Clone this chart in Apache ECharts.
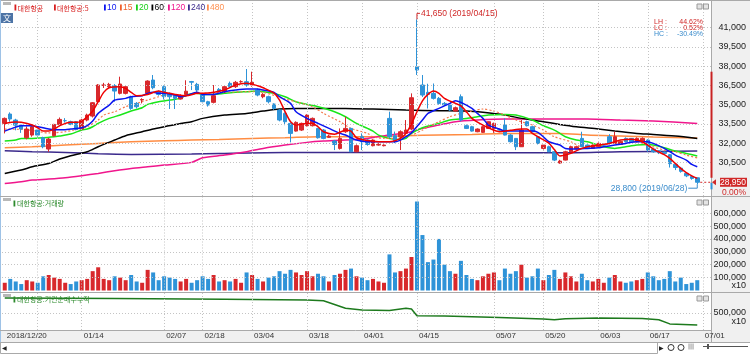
<!DOCTYPE html>
<html><head><meta charset="utf-8">
<script src="https://cdn.jsdelivr.net/npm/echarts@6/dist/echarts.min.js"></script>
<style>html,body{margin:0;padding:0;background:#fff}#c{width:750px;height:354px}</style>
</head><body><div id="c"></div>
<script>
// ---------------- DATA ----------------
const dates = [
'2018/12/20','2018/12/21','2018/12/24','2018/12/26','2018/12/27','2018/12/28',
'2019/01/02','2019/01/03','2019/01/04','2019/01/07','2019/01/08','2019/01/09','2019/01/10','2019/01/11','2019/01/14','2019/01/15','2019/01/16','2019/01/17','2019/01/18','2019/01/21','2019/01/22','2019/01/23','2019/01/24','2019/01/25','2019/01/28','2019/01/29','2019/01/30','2019/01/31',
'2019/02/01','2019/02/07','2019/02/08','2019/02/11','2019/02/12','2019/02/13','2019/02/14','2019/02/15','2019/02/18','2019/02/19','2019/02/20','2019/02/21','2019/02/22','2019/02/25','2019/02/26','2019/02/27','2019/02/28',
'2019/03/04','2019/03/05','2019/03/06','2019/03/07','2019/03/08','2019/03/11','2019/03/12','2019/03/13','2019/03/14','2019/03/15','2019/03/18','2019/03/19','2019/03/20','2019/03/21','2019/03/22','2019/03/25','2019/03/26','2019/03/27','2019/03/28','2019/03/29',
'2019/04/01','2019/04/02','2019/04/03','2019/04/04','2019/04/05','2019/04/08','2019/04/09','2019/04/10','2019/04/11','2019/04/12','2019/04/15','2019/04/16','2019/04/17','2019/04/18','2019/04/19','2019/04/22','2019/04/23','2019/04/24','2019/04/25','2019/04/26','2019/04/29','2019/04/30',
'2019/05/02','2019/05/03','2019/05/07','2019/05/08','2019/05/09','2019/05/10','2019/05/13','2019/05/14','2019/05/15','2019/05/16','2019/05/17','2019/05/20','2019/05/21','2019/05/22','2019/05/23','2019/05/24','2019/05/27','2019/05/28','2019/05/29','2019/05/30','2019/05/31',
'2019/06/03','2019/06/04','2019/06/05','2019/06/07','2019/06/10','2019/06/11','2019/06/12','2019/06/13','2019/06/14','2019/06/17','2019/06/18','2019/06/19','2019/06/20','2019/06/21','2019/06/24','2019/06/25','2019/06/26','2019/06/27','2019/06/28',
'2019/07/01','2019/07/02'];

const opens = [33540,34270,33800,33410,32420,32630,33020,32420,31540,32580,
33460,33750,33670,33670,33100,33800,34110,35230,36500,36400,
36480,35880,35880,35620,35100,35360,35880,36920,36010,36400,
35880,35750,35440,35800,36800,36580,35750,35230,35180,36190,
36010,36660,36400,36790,36790,36530,36140,35620,35620,35050,
34580,34320,33540,32940,33020,33360,33360,33150,33020,32450,
32160,31590,32890,33150,31330,32500,32240,31800,31850,31800,
33930,32580,32500,32760,33100,37960,36530,35960,35880,35490,
35100,34970,34500,35620,33360,33280,32890,32840,33150,33150,
33050,33410,32630,32370,31720,33670,33280,32500,31590,31720,
31330,30450,30680,31330,31540,32370,31850,31590,31720,31850,
32500,31980,31900,32370,32370,32110,32160,32240,31540,31400,
31300,31100,30350,30050,29650,29400,29300];
const closes = [33930,33880,33400,33100,33100,33280,32630,31720,32320,33460,
33850,33750,33460,33070,33800,34190,35150,36530,36530,36580,
36060,36610,36400,34710,34840,35400,36840,36320,35800,35620,
35620,35490,35700,36050,36750,36140,35230,34970,35700,36060,
36400,36400,36740,36790,36530,36740,35750,35800,35230,34710,
33800,33670,32760,33620,33540,34190,33930,32420,32370,32550,
31900,32370,33150,31330,31800,32110,31900,32240,31900,31850,
32500,32110,32890,33020,35540,37700,35750,35800,35490,35100,
34970,34580,34760,33800,33150,32940,33100,33280,33670,33540,
33020,32630,32110,31720,33020,33360,32890,31980,31850,31330,
30680,30600,31330,31720,31720,31720,31640,31850,31980,31850,
31980,32500,32110,32110,32110,32370,32370,31460,31330,31250,
31200,30400,30100,29800,29450,29250,28950];
const lows = [32760,33670,33000,32800,32300,32500,32500,31600,31330,32500,
33400,33600,33400,33000,33000,33700,34000,35100,36300,36300,
35230,35800,35800,34600,34700,35100,35800,36200,35700,35400,
34660,34660,35400,35650,36140,36000,35100,34850,35100,35950,
35900,36300,36300,36700,36400,36400,35650,35500,35100,34600,
33700,33400,32060,32900,32950,33300,33300,32350,32300,32400,
31460,31500,32800,31300,31300,31460,31800,31750,31800,31750,
32400,32000,31460,32700,33000,37310,35600,34700,35400,35000,
34900,34500,34450,33700,33100,32900,32850,32800,33100,32800,
32950,32600,32050,31460,31700,33300,32850,31900,31500,31300,
30600,30400,30650,31300,31500,31700,31600,31550,31700,31800,
31900,31950,31850,32050,32050,32050,32100,31330,31250,31150,
31100,30100,29900,29700,29350,29150,28800];
const highs = [34000,34400,33900,33500,33300,33400,33100,32500,32400,33500,
34000,33950,33750,33700,33900,34300,35200,36600,36700,36700,
36600,37180,36500,35700,35200,35500,36900,37310,36100,36500,
35950,35800,35800,36900,36850,36700,35900,35300,36530,36300,
36500,36800,36850,36900,37780,37570,36250,35900,35700,35100,
34650,34400,33600,33700,33600,34250,34000,33200,33100,32650,
32250,33150,34060,33200,31900,32760,32300,32300,32000,31900,
34450,32900,33000,33800,35880,41650,37310,36630,36650,35600,
35200,35050,34850,35800,33450,33350,33150,33350,33700,33600,
33100,33930,32700,32400,33800,33750,33350,32550,31900,31800,
31400,30700,31400,31800,31800,32890,31900,31900,32050,31950,
32700,32890,32200,32450,32400,32450,32450,32300,31600,31450,
31350,31150,30450,30150,29700,29450,29300];

// volume (axis units, x10 shares)
const volumes = [60000,90000,70000,50000,80000,70000,60000,110000,120000,100000,
90000,60000,50000,70000,80000,90000,150000,180000,90000,80000,
110000,100000,80000,120000,70000,60000,160000,140000,80000,110000,
100000,90000,70000,90000,60000,80000,110000,90000,120000,70000,
80000,70000,90000,60000,140000,120000,90000,70000,100000,110000,
150000,130000,160000,140000,120000,150000,110000,130000,110000,70000,
120000,130000,160000,170000,110000,100000,80000,90000,70000,60000,
280000,140000,150000,170000,260000,690000,430000,220000,240000,400000,
200000,150000,130000,230000,120000,90000,80000,110000,130000,140000,
80000,170000,130000,150000,200000,100000,110000,170000,80000,120000,
160000,90000,140000,110000,70000,130000,80000,70000,90000,60000,
100000,120000,70000,60000,70000,80000,90000,140000,110000,80000,
90000,150000,70000,100000,50000,60000,80000];

// moving averages: [dateIndex, value]
const ma5 = [[0,33540],[2,33650],[3,33620],[5,33410],[6,33200],[7,32940],[8,32940],[9,33100],[10,33360],[12,33620],[13,33620],[14,33720],[15,34060],[16,34500],[17,35230],[18,35960],[19,36320],[21,36400],[22,36270],[23,35960],[24,35700],[26,35800],[28,36060],[29,35960],[31,35800],[33,35700],[35,35880],[37,35900],[38,35960],[40,36140],[42,36530],[44,36660],[46,36480],[47,36320],[49,35900],[50,35360],[51,34450],[52,33670],[53,33410],[55,33540],[56,33540],[57,33280],[58,32890],[60,32700],[62,33000],[63,32940],[64,32420],[66,32200],[68,32110],[70,32110],[72,32370],[73,32760],[74,33500],[75,34450],[76,35300],[77,35800],[78,36060],[79,35880],[80,35490],[82,35100],[83,34900],[84,34450],[85,33930],[87,33400],[89,33000],[90,32890],[92,33000],[94,33100],[95,33100],[96,32760],[97,32500],[99,32000],[100,31500],[101,31000],[103,31200],[104,31400],[105,31590],[106,31720],[108,31850],[110,31980],[111,32110],[112,32240],[114,32300],[115,32240],[116,32110],[117,31850],[118,31540],[120,31100],[121,30810],[122,30420],[123,30030],[124,29700],[125,29450],[126,29250]];
const ma10 = [[0,32940],[2,33250],[3,33360],[5,33360],[6,33280],[8,33100],[9,33050],[11,33050],[12,33100],[14,33200],[15,33360],[16,33720],[17,34320],[19,34970],[20,35360],[22,35490],[23,35620],[25,35700],[26,35880],[27,35960],[28,35880],[29,35880],[31,35750],[32,35620],[33,35700],[35,35960],[36,35800],[38,35800],[40,36010],[42,36140],[44,36220],[46,36220],[47,36140],[49,35960],[50,35620],[52,35100],[53,34450],[55,33930],[57,33540],[59,33150],[61,32760],[62,32630],[64,32240],[66,32110],[69,32110],[71,32110],[72,32240],[73,32500],[74,32800],[75,33300],[76,33800],[77,34320],[79,34710],[81,35100],[82,35310],[83,35180],[85,34710],[86,34320],[87,33930],[88,33410],[90,33100],[91,32940],[93,32940],[96,32940],[97,32840],[98,32500],[99,32110],[101,31850],[102,31590],[104,31540],[106,31590],[108,31640],[109,31720],[111,31850],[113,31980],[115,32110],[117,32110],[118,31980],[120,31590],[122,31070],[124,30680],[125,30340],[126,30160]];
const ma15 = [[0,33100],[4,33050],[8,32800],[11,32890],[15,33280],[17,33800],[18,34190],[20,34450],[22,34840],[25,35230],[26,35360],[28,35620],[29,35750],[32,35700],[33,35750],[36,35880],[40,35960],[44,36010],[47,35960],[51,35440],[53,35230],[56,34840],[58,34320],[61,33670],[63,33150],[66,32760],[67,32500],[69,32370],[71,32370],[74,32630],[76,33020],[77,33280],[79,33670],[81,34060],[83,34320],[85,34500],[87,34660],[89,34500],[91,34190],[93,33800],[96,33410],[98,33020],[100,32500],[103,32110],[105,31720],[108,31720],[110,31980],[112,32110],[115,32110],[117,31850],[120,31460],[122,31330],[124,31070],[126,30850]];
const ma20 = [[0,32160],[2,32240],[3,32370],[5,32370],[7,32420],[9,32500],[10,32550],[12,32710],[14,33020],[15,33100],[16,33280],[17,33540],[19,33930],[21,34190],[23,34500],[25,34760],[26,35020],[28,35230],[30,35360],[32,35490],[33,35750],[35,35880],[36,35800],[38,35800],[40,35880],[42,35960],[44,36010],[46,36060],[47,36010],[49,35880],[51,35620],[53,35230],[55,35020],[57,34840],[60,34450],[62,34060],[64,33540],[66,33150],[67,32940],[68,32630],[70,32370],[72,32290],[73,32370],[74,32760],[76,33200],[79,33540],[81,33800],[84,33930],[86,34060],[88,34190],[91,34240],[93,34190],[96,33800],[98,33360],[100,33020],[101,32760],[102,32500],[104,32240],[106,32110],[108,31850],[109,31720],[111,31590],[113,31720],[115,31850],[117,31900],[118,31850],[120,31640],[122,31380],[124,31200],[126,31000]];
const ma60 = [[0,29640],[3,29900],[5,30160],[8,30420],[10,30760],[12,31020],[15,31330],[17,31720],[20,32240],[22,32580],[25,32890],[27,33100],[29,33280],[32,33540],[34,33670],[36,33930],[40,34190],[44,34320],[47,34500],[50,34660],[53,34710],[57,34710],[62,34710],[67,34660],[73,34580],[79,34530],[84,34500],[87,34400],[91,34190],[94,33930],[98,33670],[101,33460],[104,33280],[108,33100],[111,32940],[115,32760],[118,32680],[122,32550],[126,32370]];
const ma120 = [[0,28860],[3,28990],[5,29120],[8,29200],[11,29300],[14,29460],[17,29640],[20,29850],[23,30030],[26,30160],[29,30290],[34,30500],[36,30860],[40,31070],[44,31330],[47,31590],[51,31850],[55,32060],[58,32160],[62,32240],[66,32370],[70,32630],[74,32890],[76,33150],[79,33410],[82,33670],[86,33800],[91,33880],[96,33880],[101,33880],[106,33880],[112,33800],[118,33720],[126,33540]];
const ma240 = [[0,31410],[5,31330],[11,31280],[17,31170],[23,31120],[34,31150],[39,31200],[51,31280],[67,31280],[85,31260],[101,31250],[112,31330],[126,31380]];
const ma480 = [[0,31640],[5,31720],[11,31850],[17,31980],[23,32110],[29,32190],[34,32240],[39,32290],[45,32370],[51,32420],[57,32500],[67,32500],[73,32580],[79,32630],[85,32680],[91,32760],[101,32760],[106,32630],[112,32550],[118,32470],[126,32400]];

// institutional net buying, cumulative (x10)
const instCum = [[0,940000],[20,925000],[40,905000],[55,885000],[58,860000],[62,640000],[65,590000],[70,570000],[73,640000],[74,620000],[75,420000],[80,410000],[90,370000],[98,320000],[100,300000],[102,330000],[108,350000],[112,345000],[116,340000],[119,300000],[121,180000],[126,150000]];

// axis ticks
const priceTicks = [30500,32000,33500,35000,36500,38000,39500,41000];
const volTicks = [100000,200000,300000,400000,500000,600000];
const instTicks = [500000];
const xTickIdx = [0,14,29,36,45,55,65,75,89,98,108,117,127];
const xTickText = ['2018/12/20','01/14','02/07','02/18','03/04','03/18','04/01','04/15','05/07','05/20','06/03','06/17','07/01'];
const xGridIdx = [6,14,29,36,45,55,65,75,89,98,108,117,127];

// annotations (values)
const highPoint = [75, 41650], highText = '41,650 (2019/04/15)';
const lowPoint = [126, 28800], lowText = '28,800 (2019/06/28)';
const lastClose = 28950, lastChange = '0.00%';
const statsLabels = ['LH :','LC :','HC :'], statsValues = ['44.62%','0.52%','-30.49%'];
const rangeUp = [37570, 29300], rangeDown = [28900, 28400];

// ---------------- CHART ----------------
const UP = '#d8282c', DOWN = '#2e93d8';
const NUM = '"Liberation Sans", Arial, sans-serif';
const KR = '"Noto Sans CJK KR", "Noto Sans", sans-serif';
const GRIDC = '#c4c4c4';

const chart = echarts.init(document.getElementById('c'), null, {renderer: 'canvas'});
const ohlc = opens.map((o, i) => [o, closes[i], lows[i], highs[i]]);
const volData = volumes.map((v, i) => ({value: v, itemStyle: {color: closes[i] >= opens[i] ? UP : DOWN}}));

function gridLines(hVals) {
  return {
    symbol: 'none', silent: true, label: {show: false}, animation: false,
    lineStyle: {type: [1, 2], color: GRIDC, width: 1},
    emphasis: {disabled: true},
    data: xGridIdx.map(i => ({xAxis: i})).concat(hVals.map(v => ({yAxis: v})))
  };
}
function maLine(name, data, color, dotted, w) {
  return {type: 'line', name, data, xAxisIndex: 0, yAxisIndex: 0, showSymbol: false, smooth: 0.25,
    silent: true, z: 3, lineStyle: {color, width: w || 1.5, type: dotted ? [2, 2] : 'solid'}};
}
const xCat = (gi, showLabel) => ({
  type: 'category', gridIndex: gi, data: dates, boundaryGap: true,
  axisLine: {show: false}, axisTick: {show: false}, splitLine: {show: false},
  axisLabel: showLabel ? {
    interval: (idx) => xTickIdx.indexOf(idx) >= 0,
    formatter: (v, idx) => xTickText[xTickIdx.indexOf(idx)] || '',
    align: 'left', margin: 2, padding: [0, 0, 0, 2], fontSize: 8, fontFamily: NUM, color: '#333'
  } : {show: false}
});

const option = {
  animation: false,
  backgroundColor: '#ffffff',
  grid: [
    {left: 2, right: 39, top: 1, height: 195},
    {left: 2, right: 39, top: 197, height: 93.5},
    {left: 2, right: 39, top: 293, height: 37}
  ],
  xAxis: [xCat(0, false), xCat(1, false), xCat(2, true)],
  yAxis: [
    {type: 'value', gridIndex: 0, position: 'right', min: 27880, max: 43080, scale: true,
      axisLine: {show: false}, axisTick: {show: false}, splitLine: {show: false}, axisLabel: {show: false}},
    {type: 'value', gridIndex: 1, position: 'right', min: 0, max: 725000, interval: 100000,
      axisLine: {show: false}, axisTick: {show: false}, splitLine: {show: false},
      axisLabel: {align: 'right', margin: 35, fontSize: 9, fontFamily: NUM, color: '#222',
        formatter: v => volTicks.indexOf(v) >= 0 ? v.toLocaleString('en-US') : ''}},
    {type: 'value', gridIndex: 2, position: 'right', min: 0, max: 1088000, interval: 500000,
      axisLine: {show: false}, axisTick: {show: false}, splitLine: {show: false},
      axisLabel: {align: 'right', margin: 35, fontSize: 9, fontFamily: NUM, color: '#222',
        formatter: v => instTicks.indexOf(v) >= 0 ? v.toLocaleString('en-US') : ''}}
  ],
  series: [
    {type: 'line', xAxisIndex: 0, yAxisIndex: 0, data: [], z: 1, silent: true, markLine: gridLines(priceTicks)},
    {type: 'line', xAxisIndex: 1, yAxisIndex: 1, data: [], z: 1, silent: true, markLine: gridLines(volTicks)},
    {type: 'line', xAxisIndex: 2, yAxisIndex: 2, data: [], z: 1, silent: true, markLine: gridLines(instTicks)},
    maLine('480', ma480, '#ff8c42'),
    maLine('240', ma240, '#3b2a8c'),
    maLine('120', ma120, '#f0168c'),
    maLine('60', ma60, '#000000'),
    maLine('20', ma20, '#19e619'),
    maLine('15', ma15, '#f4784a', true, 1.2),
    {type: 'candlestick', name: '대한항공', xAxisIndex: 0, yAxisIndex: 0, data: ohlc, barWidth: 4, z: 4, silent: true,
      itemStyle: {color: UP, color0: DOWN, borderColor: UP, borderColor0: DOWN, borderWidth: 1}},
    Object.assign(maLine('10', ma10, '#0a14f0'), {z: 5}),
    Object.assign(maLine('5', ma5, '#f00000'), {z: 6}),
    {type: 'bar', xAxisIndex: 1, yAxisIndex: 1, data: volData, barWidth: 4, silent: true, z: 3},
    {type: 'line', xAxisIndex: 2, yAxisIndex: 2, data: instCum, showSymbol: false, silent: true, z: 3,
      lineStyle: {color: '#1d7a1d', width: 1.5}}
  ]
};
chart.setOption(option);

// ---------------- DECORATION / TEXT ----------------
function px(x, y) { return chart.convertToPixel({xAxisIndex: 0, yAxisIndex: 0}, [x, y]); }
function py(v) { return chart.convertToPixel({yAxisIndex: 0}, v); }
const G = [];
const T = (text, x, y, fill, font, align) => ({type: 'text', z: 50, silent: true,
  style: {text, x, y, fill, font, align: align || 'left', verticalAlign: 'middle', textAlign: align || 'left', textVerticalAlign: 'middle'}});
const L = (x1, y1, x2, y2, c, z) => ({type: 'line', z: z == null ? -5 : z, silent: true, shape: {x1, y1, x2, y2}, style: {stroke: c || '#a9a9a9', lineWidth: 1}});
const R = (x, y, w, h, fill, stroke, z) => ({type: 'rect', z: z == null ? -8 : z, silent: true, shape: {x, y, width: w, height: h}, style: {fill, stroke: stroke || null, lineWidth: 1}});

// backgrounds and frames
G.push(R(711, 0, 39, 342, '#f0f0f0', null, -10));
G.push(R(0, 330, 711, 12, '#f0f0f0', null, -10));
G.push(L(0, 0.5, 750, 0.5));
G.push(L(0.5, 0, 0.5, 342, '#9ec2e6'));
G.push(L(711.5, 0, 711.5, 342));
G.push(L(0, 196.5, 750, 196.5));
G.push(L(0, 292.5, 750, 292.5));
G.push(L(0, 330.5, 711, 330.5));
G.push(L(0, 342.5, 750, 342.5));
// scrollbar
G.push(R(0.5, 342.5, 657, 11, '#ffffff', '#a9a9a9', -6));
G.push(T('◀', 2, 348.5, '#222', '6px "DejaVu Sans"'));
G.push(T('▶', 659, 348.5, '#222', '6px "DejaVu Sans"'));
G.push({type: 'circle', z: 5, silent: true, shape: {cx: 671, cy: 347.5, r: 3}, style: {fill: 'none', stroke: '#333', lineWidth: 1}});
G.push({type: 'circle', z: 5, silent: true, shape: {cx: 681, cy: 347.5, r: 3}, style: {fill: 'none', stroke: '#333', lineWidth: 1}});
G.push(T('|||', 688, 346, '#333', '6px "DejaVu Sans"'));
G.push(L(703, 346.5, 748, 346.5, '#555', 5));
G.push(R(707, 344, 2, 5, '#555', null, 5));
// panel handles and buttons
[2, 198, 294].forEach(y => {
  G.push(R(3, y, 8, 3, '#b8b8b8', null, 5));
  G.push(R(697, y + 2, 5, 5, '#e4e4e4', '#9a9a9a', 5));
  G.push(R(703.5, y + 2, 5, 5, '#e4e4e4', '#9a9a9a', 5));
});
G.push(R(1, 13, 12, 10, '#4d74a6', null, 5));
G.push(T('文', 7, 18, '#ffffff', '8px ' + KR, 'center'));

// legend line
const legendItems = [
  ['대한항공', 14.5, '#d81e1e', KR], ['대한항공:5', 54, '#d81e1e', KR], ['10', 104, '#0a14f0', NUM],
  ['15', 120, '#f0602c', NUM], ['20', 136, '#19d019', NUM], ['60', 151.5, '#000000', NUM],
  ['120', 168, '#f0168c', NUM], ['240', 188, '#3b2a8c', NUM], ['480', 207, '#ff9050', NUM]];
legendItems.forEach(([t, x, c, f]) => {
  G.push(R(x, 4.5, 1.8, 6, c, null, 5));
  G.push(T(t, x + 3, 8, c, (f === KR ? '7px ' : '8.5px ') + f));
});
G.push(R(13.5, 200.5, 1.8, 6, '#2c8a2c', null, 5));
G.push(T('대한항공:거래량', 17, 203.5, '#2c8a2c', '7px ' + KR));
G.push(R(13.5, 296.5, 1.8, 6, '#2c8a2c', null, 5));
G.push(T('대한항공:기관순매수누적', 17, 299.5, '#2c8a2c', '7px ' + KR));
G.push(T('x10', 746, 286, '#222', '9px ' + NUM, 'right'));
G.push(T('x10', 746, 322, '#222', '9px ' + NUM, 'right'));

// price axis labels
priceTicks.forEach(v => G.push(T(v.toLocaleString('en-US'), 746, py(v), '#222', '9px ' + NUM, 'right')));

// stats
statsLabels.forEach((t, k) => {
  const y = 22 + k * 6, c = k < 2 ? '#d02828' : '#3a8ccc';
  G.push(T(t, 654, y, c, '7px ' + NUM));
  G.push(T(statsValues[k], 703, y, c, '7px ' + NUM, 'right'));
});

// high annotation
const hp = px(highPoint[0], highPoint[1]);
const hy = hp[1] - 6;
G.push({type: 'polyline', z: 20, silent: true, shape: {points: [[hp[0], hp[1]], [hp[0], hy], [hp[0] + 3, hy]]}, style: {stroke: '#d02828', lineWidth: 1, fill: null}});
G.push(T(highText, hp[0] + 4, hy, '#d02828', '8.5px ' + NUM));
// low annotation
const lp = px(lowPoint[0], lowPoint[1]);
const ly = lp[1] + 4;
G.push({type: 'polyline', z: 20, silent: true, shape: {points: [[lp[0], lp[1]], [lp[0], ly], [lp[0] - 9, ly]]}, style: {stroke: '#3a8ccc', lineWidth: 1, fill: null}});
G.push(T(lowText, lp[0] - 10, ly, '#3a8ccc', '8.5px ' + NUM, 'right'));

// last price marker
const cp = px(ohlc.length - 1, lastClose);
G.push({type: 'line', z: 20, silent: true, shape: {x1: cp[0] + 3, y1: cp[1], x2: 711, y2: cp[1]}, style: {stroke: '#d02828', lineWidth: 1, lineDash: [2, 2]}});
G.push({type: 'polygon', z: 20, silent: true, shape: {points: [[712, cp[1]], [716, cp[1] - 3], [716, cp[1] + 3]]}, style: {fill: '#d02828'}});
G.push(R(720, cp[1] - 4.5, 27, 9, '#d02828', null, 20));
G.push(T(lastClose.toLocaleString('en-US'), 746, cp[1], '#ffffff', '8.5px ' + NUM, 'right'));
G.push(T(lastChange, 746, cp[1] + 10.5, '#d02828', '8.5px ' + NUM, 'right'));
// range bars on price axis
G.push({type: 'line', z: 15, silent: true, shape: {x1: 711.5, y1: py(rangeUp[0]), x2: 711.5, y2: py(rangeUp[1])}, style: {stroke: '#c82222', lineWidth: 2}});
G.push({type: 'line', z: 15, silent: true, shape: {x1: 711.5, y1: py(rangeDown[0]), x2: 711.5, y2: py(rangeDown[1])}, style: {stroke: '#2e93d8', lineWidth: 2}});

chart.setOption({graphic: G});
</script>
</body></html>
